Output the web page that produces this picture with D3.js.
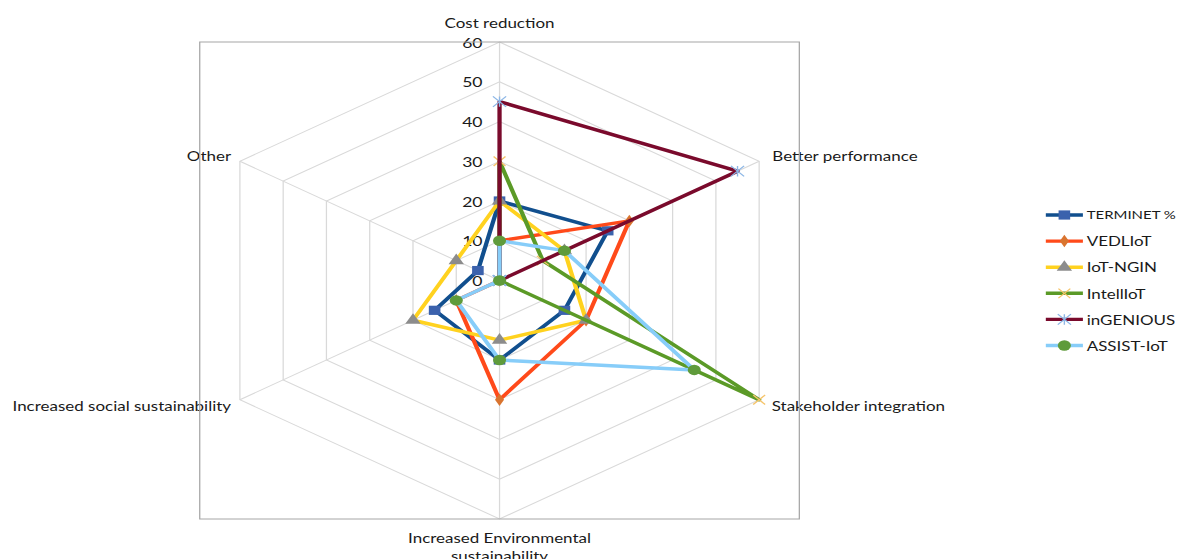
<!DOCTYPE html>
<html>
<head>
<meta charset="utf-8">
<script src="https://cdn.jsdelivr.net/npm/d3@7"></script>
<style>
  html, body { margin: 0; padding: 0; background: #ffffff; }
  svg { display: block; }
  text { font-family: Lato, "Open Sans", "Liberation Sans", sans-serif; fill: #1a1a1a; }
</style>
</head>
<body>
<svg id="chart" width="1181" height="559"></svg>
<script>
// Radar categories (clockwise from the top)
const categories = [
  "Cost reduction",
  "Better performance",
  "Stakeholder integration",
  "Increased Environmental sustainability",
  "Increased social sustainability",
  "Other"
];

// Series names and values per category
const seriesNames = ["TERMINET %", "VEDLIoT", "IoT-NGIN", "IntellIoT", "inGENIOUS", "ASSIST-IoT"];
const terminet  = [20, 25, 15, 20, 15, 5];
const vedliot   = [10, 30, 20, 30, 10, 0];
const iotNgin   = [20, 15, 20, 15, 20, 10];
const intelliot = [30, 10, 60, 0, 0, 0];
const ingenious = [45, 55, 0, 0, 0, 0];
const assistIot = [10, 15, 45, 20, 10, 0];

// Radial axis ticks
const tickValues = [0, 10, 20, 30, 40, 50, 60];

const seriesValues = [terminet, vedliot, iotNgin, intelliot, ingenious, assistIot];

// Series styling: line colour, marker shape, marker colour
const styles = [
  { line: "#114f8e", marker: "square",   fill: "#3b62ad" },
  { line: "#ff4a1a", marker: "diamond",  fill: "#d9742f" },
  { line: "#ffd21f", marker: "triangle", fill: "#8c8c8c" },
  { line: "#5b9a27", marker: "x",        fill: "#f6c46a" },
  { line: "#7a0a2c", marker: "asterisk", fill: "#8db7e6" },
  { line: "#87cdf9", marker: "circle",   fill: "#5f9b3b" }
];

const fontSize = 13.5;

// The chart is laid out in a native frame and stretched horizontally
const sx = 1.257;
const cx = 397.4, cy = 280.5, R = 238.5;

const svg = d3.select("#chart");
const g = svg.append("g").attr("transform", `scale(${sx},1)`);

const r = d3.scaleLinear().domain([0, 60]).range([0, R]);
const angle = d3.scalePoint().domain(d3.range(categories.length + 1)).range([0, 2 * Math.PI]);
const ang = i => angle(i);
const px = (i, v) => cx + r(v) * Math.sin(ang(i));
const py = (i, v) => cy - r(v) * Math.cos(ang(i));

const plot = g.append("g");

// Grid hexagons
const grid = d3.lineRadial()
  .angle((d, i) => ang(i))
  .radius(d => r(d))
  .curve(d3.curveLinearClosed);

plot.append("g").attr("transform", `translate(${cx},${cy})`)
  .selectAll("path.grid")
  .data(tickValues.slice(1))
  .join("path")
  .attr("d", t => grid(categories.map(() => t)))
  .attr("fill", "none")
  .attr("stroke", "#d9d9d9")
  .attr("stroke-width", 1);

// Spokes
plot.selectAll("line.spoke")
  .data(categories)
  .join("line")
  .attr("x1", cx).attr("y1", cy)
  .attr("x2", (d, i) => px(i, 60))
  .attr("y2", (d, i) => py(i, 60))
  .attr("stroke", "#d9d9d9")
  .attr("stroke-width", 1);

// Tick labels along the top spoke
plot.selectAll("text.tick")
  .data(tickValues)
  .join("text")
  .attr("x", cx - 13.5)
  .attr("y", d => cy - r(d))
  .attr("text-anchor", "end")
  .attr("dominant-baseline", "central")
  .attr("font-size", fontSize + 0.5)
  .text(d => d);

// Category labels
const labelPos = [
  { x: cx, y: 22.5, anchor: "middle" },
  { x: px(1, 60) + 10.5, y: py(1, 60) - 6, anchor: "start" },
  { x: px(2, 60) + 10, y: py(2, 60) + 6, anchor: "start" },
  { x: cx, y: 538, anchor: "middle" },
  { x: px(4, 60) - 7, y: py(4, 60) + 6, anchor: "end" },
  { x: px(5, 60) - 7, y: py(5, 60) - 6, anchor: "end" }
];

categories.forEach((c, i) => {
  const p = labelPos[i];
  const t = plot.append("text")
    .attr("x", p.x)
    .attr("y", p.y)
    .attr("text-anchor", p.anchor)
    .attr("dominant-baseline", "central")
    .attr("font-size", fontSize);
  if (i === 3) {
    t.append("tspan").attr("x", p.x).attr("dy", 0).text("Increased Environmental");
    t.append("tspan").attr("x", p.x).attr("dy", 18).text("sustainability");
  } else {
    t.text(c);
  }
});

// Marker shapes
const symbolX = {
  draw(ctx, size) {
    const h = Math.sqrt(size) / 2;
    ctx.moveTo(-h, -h); ctx.lineTo(h, h);
    ctx.moveTo(-h, h); ctx.lineTo(h, -h);
  }
};
const symbolStar = {
  draw(ctx, size) {
    const h = Math.sqrt(size) / 2;
    ctx.moveTo(-h, -h); ctx.lineTo(h, h);
    ctx.moveTo(-h, h); ctx.lineTo(h, -h);
    ctx.moveTo(0, -h); ctx.lineTo(0, h);
  }
};
const markerDefs = {
  square:   { type: d3.symbolSquare,   size: 85,  stroked: false },
  diamond:  { type: d3.symbolDiamond,  size: 45,  stroked: false },
  triangle: { type: d3.symbolTriangle, size: 65,  stroked: false },
  x:        { type: symbolX,           size: 90,  stroked: true },
  asterisk: { type: symbolStar,        size: 110, stroked: true },
  circle:   { type: d3.symbolCircle,   size: 85,  stroked: false }
};

function drawMarker(sel, st) {
  const m = markerDefs[st.marker];
  sel.attr("d", d3.symbol().type(m.type).size(m.size)());
  if (m.stroked) {
    sel.attr("fill", "none").attr("stroke", st.fill).attr("stroke-width", 1.1);
  } else {
    sel.attr("fill", st.fill).attr("stroke", "none");
  }
}

// Series polygons and markers, drawn in order
const seriesLine = d3.lineRadial()
  .angle((d, i) => ang(i))
  .radius(d => r(d))
  .curve(d3.curveLinearClosed);

const seriesG = plot.append("g");
seriesValues.forEach((vals, s) => {
  const st = styles[s];
  const sg = seriesG.append("g");
  sg.append("path")
    .attr("transform", `translate(${cx},${cy})`)
    .attr("d", seriesLine(vals))
    .attr("fill", "none")
    .attr("stroke", st.line)
    .attr("stroke-width", 3.4)
    .attr("stroke-linejoin", "round");
  sg.selectAll("path.mk")
    .data(vals)
    .join("path")
    .attr("class", "mk")
    .attr("transform", (v, i) => `translate(${px(i, v)},${py(i, v)})`)
    .call(sel => drawMarker(sel, st));
});

// Plot-area border
plot.append("rect")
  .attr("x", cx - R)
  .attr("y", cy - R)
  .attr("width", 2 * R)
  .attr("height", 2 * R)
  .attr("fill", "none")
  .attr("stroke", "#a6a6a6")
  .attr("stroke-width", 1);

// Legend
const legend = g.append("g");
const lx1 = 832, lx2 = 861.5, ltx = 864.5, ly0 = 215, ldy = 26.1;
const legendMaxWidth = 1176 / sx - ltx;   // keep labels inside the right edge
seriesNames.forEach((name, s) => {
  const st = styles[s];
  const y = ly0 + s * ldy;
  legend.append("line")
    .attr("x1", lx1).attr("x2", lx2)
    .attr("y1", y).attr("y2", y)
    .attr("stroke", st.line)
    .attr("stroke-width", 3.4);
  legend.append("path")
    .attr("transform", `translate(${(lx1 + lx2) / 2},${y})`)
    .call(sel => drawMarker(sel, st));
  const t = legend.append("text")
    .attr("x", ltx)
    .attr("y", y)
    .attr("dominant-baseline", "central")
    .attr("font-size", fontSize)
    .text(name);
  const w = t.node().getComputedTextLength();
  if (w > legendMaxWidth) {
    t.attr("font-size", (fontSize * legendMaxWidth / w).toFixed(2));
  }
});
</script>
</body>
</html>
